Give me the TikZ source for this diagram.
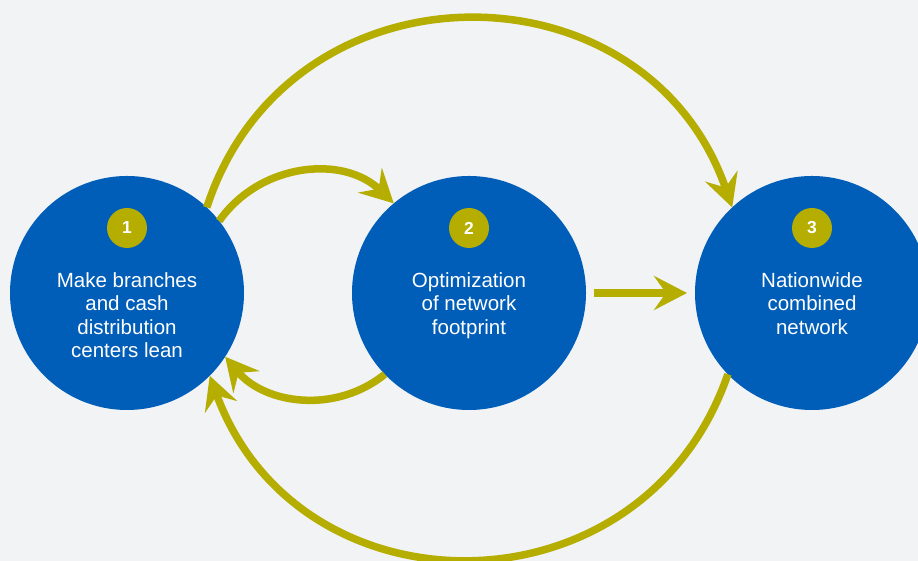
\documentclass[tikz,border=0pt]{standalone}
\usepackage{fontspec}
\setmainfont{Liberation Sans}
\usepackage{tikz}
\usetikzlibrary{arrows.meta}

\definecolor{pagegray}{RGB}{241,243,245}
\definecolor{roundblue}{RGB}{0,94,184}
\definecolor{arrowgold}{RGB}{181,173,0}

\begin{document}
\begin{tikzpicture}[x=1bp,y=1bp,
  bubble/.style={circle,fill=roundblue,minimum size=234bp,inner sep=0pt,outer sep=0pt},
  badge/.style={circle,fill=arrowgold,minimum size=40bp,inner sep=0pt,text=white,font=\fontsize{17.5}{20}\selectfont\bfseries},
  txt/.style={anchor=north,align=center,inner sep=0pt,text=white,font=\fontsize{20.6}{23.6}\selectfont},
  flow/.style={draw=arrowgold,line width=7.5bp,-{Stealth[length=33bp,width=34bp,inset=12bp]}}]
\useasboundingbox (0,0) rectangle (918,561);
\clip (0,0) rectangle (918,561);
\fill[pagegray] (0,0) rectangle (918,561);

\node[bubble] (c1) at (127,268) {};
\node[bubble] (c2) at (469,268) {};
\node[bubble] (c3) at (812,268) {};

\node[badge] (n1) at (127,333) {1};
\node[badge] (n2) at (469,333) {2};
\node[badge] (n3) at (812,333) {3};

\node[txt] (t1) at (127,289) {Make branches\\and cash\\distribution\\centers lean};
\node[txt] (t2) at (469,289) {Optimization\\of network\\footprint};
\node[txt] (t3) at (812,289) {Nationwide\\combined\\network};

\draw[flow] (c1.47) to[out=72,in=109,looseness=1.29] (c3.133);
\draw[flow] (c1.38) to[out=55,in=136,looseness=1.03] (c2.130);
\draw[flow,shorten <=8bp,shorten >=8bp] (c2) -- (c3);
\draw[flow] (c2.224) to[out=219,in=310,looseness=1] (c1.327);
\draw[flow] (c3.224) to[out=251,in=290,looseness=1.28] (c1.315);
\end{tikzpicture}
\end{document}
